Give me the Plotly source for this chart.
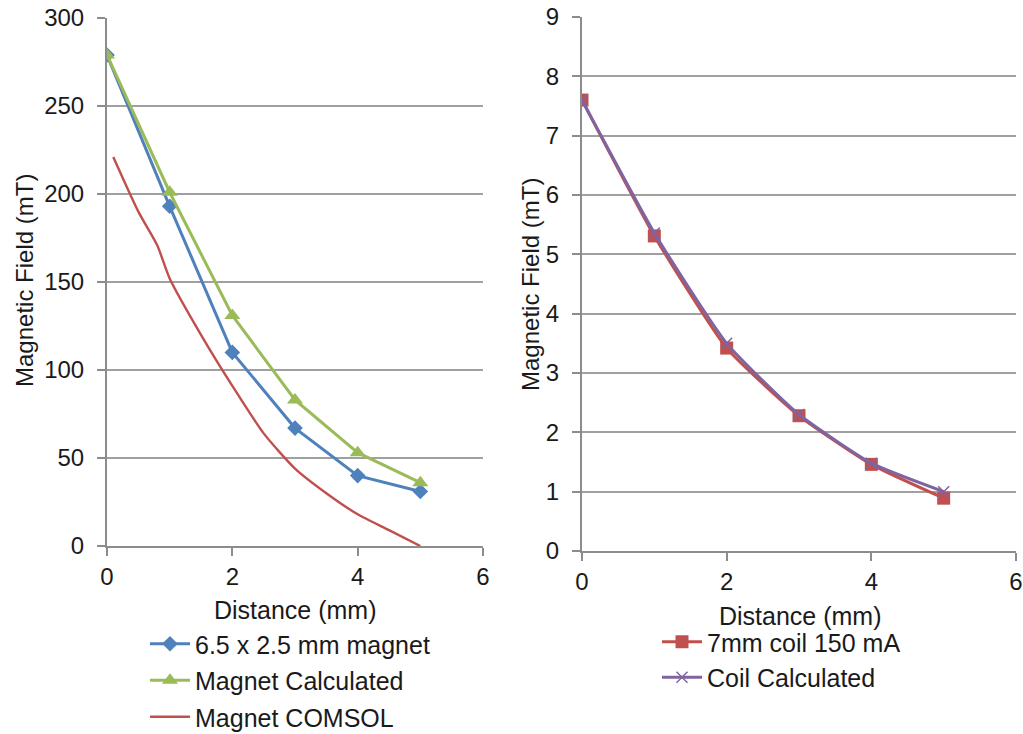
import plotly.graph_objects as go

W, H = 1023, 734

# ---- data ----
dist = [0, 1, 2, 3, 4, 5]
magnet_meas = [279, 193, 110, 67, 40, 31]
magnet_calc = [279, 201, 131, 83, 53, 36]
comsol_x = [0.1, 0.5, 0.8, 1.0, 1.5, 2.0, 2.5, 3.0, 3.5, 4.0, 4.5, 5.0]
comsol_y = [221, 190, 171, 152, 120, 91, 64, 44, 30, 18, 9, 0]

coil_meas = [7.6, 5.31, 3.42, 2.28, 1.46, 0.89]
coil_calc = [7.6, 5.36, 3.5, 2.3, 1.48, 1.0]

BLUE, GREEN, RED, PURPLE = "#4F81BD", "#9BBB59", "#C0504D", "#8064A2"
FONT = "Liberation Sans, Arial, sans-serif"
TXT = "#1a1a1a"

def px(x):
    return x / W

def py(y):
    return 1 - y / H

fig = go.Figure()

fig.add_trace(go.Scatter(x=dist, y=magnet_meas, name="6.5 x 2.5 mm magnet", mode="lines+markers",
                         line=dict(color=BLUE, width=3), marker=dict(symbol="diamond", size=12, color=BLUE),
                         xaxis="x", yaxis="y", legend="legend", legendgroup="a"))
fig.add_trace(go.Scatter(x=dist, y=magnet_calc, name="Magnet Calculated", mode="lines+markers",
                         line=dict(color=GREEN, width=3), marker=dict(symbol="triangle-up", size=14, color=GREEN),
                         xaxis="x", yaxis="y", legend="legend", legendgroup="b"))
fig.add_trace(go.Scatter(x=comsol_x, y=comsol_y, name="Magnet COMSOL", mode="lines",
                         line=dict(color=RED, width=2.4, shape="spline", smoothing=0.6),
                         xaxis="x", yaxis="y", legend="legend", legendgroup="c"))

fig.add_trace(go.Scatter(x=dist, y=coil_meas, name="7mm coil 150 mA", mode="lines+markers",
                         line=dict(color=RED, width=3, shape="spline", smoothing=0.5),
                         marker=dict(symbol="square", size=13, color=RED),
                         xaxis="x2", yaxis="y2", legend="legend2", legendgroup="d"))
fig.add_trace(go.Scatter(x=dist, y=coil_calc, name="Coil Calculated", mode="lines+markers",
                         line=dict(color=PURPLE, width=3, shape="spline", smoothing=0.5),
                         marker=dict(symbol="x-thin-open", size=11, color=PURPLE, line=dict(width=1.5, color=PURPLE)),
                         xaxis="x2", yaxis="y2", legend="legend2", legendgroup="e"))

axis_common = dict(showline=True, linecolor="#8C8C8C", linewidth=2, ticks="outside", ticklen=8,
                   tickcolor="#8C8C8C", tickwidth=2, zeroline=False, automargin=False,
                   tickfont=dict(family=FONT, size=24, color=TXT))

fig.update_layout(
    width=W, height=H, margin=dict(l=0, r=0, t=0, b=0, autoexpand=False),
    paper_bgcolor="white", plot_bgcolor="white", showlegend=True,
    xaxis=dict(domain=[px(107), px(483)], range=[0, 6], dtick=2, showgrid=False, anchor="y", **axis_common),
    yaxis=dict(domain=[py(546), py(18)], range=[0, 300], dtick=50, showgrid=True, gridcolor="#A0A0A0",
               gridwidth=2, anchor="x", ticklabelstandoff=8, **axis_common),
    xaxis2=dict(domain=[px(582), px(1016)], range=[0, 6], dtick=2, showgrid=False, anchor="y2", **axis_common),
    yaxis2=dict(domain=[py(551), py(17)], range=[0, 9], dtick=1, showgrid=True, gridcolor="#A0A0A0",
                gridwidth=2, anchor="x2", ticklabelstandoff=8, **axis_common),
    legend=dict(x=px(145), y=py(621), xanchor="left", yanchor="top", bgcolor="rgba(0,0,0,0)",
                font=dict(family=FONT, size=25, color=TXT), tracegroupgap=1, itemwidth=40),
    legend2=dict(x=px(657), y=py(619), xanchor="left", yanchor="top", bgcolor="rgba(0,0,0,0)",
                 font=dict(family=FONT, size=25, color=TXT), tracegroupgap=0, itemwidth=40),
    annotations=[
        dict(text="Magnetic Field (mT)", x=px(25), y=py(281), xref="paper", yref="paper", textangle=-90,
             xanchor="center", yanchor="middle", showarrow=False, font=dict(family=FONT, size=24, color=TXT)),
        dict(text="Magnetic Field (mT)", x=px(530), y=py(285), xref="paper", yref="paper", textangle=-90,
             xanchor="center", yanchor="middle", showarrow=False, font=dict(family=FONT, size=24, color=TXT)),
        dict(text="Distance (mm)", x=px(295), y=py(610), xref="paper", yref="paper",
             xanchor="center", yanchor="middle", showarrow=False, font=dict(family=FONT, size=25, color=TXT)),
        dict(text="Distance (mm)", x=px(800), y=py(616), xref="paper", yref="paper",
             xanchor="center", yanchor="middle", showarrow=False, font=dict(family=FONT, size=25, color=TXT)),
    ],
)

fig.write_html("out.html")
